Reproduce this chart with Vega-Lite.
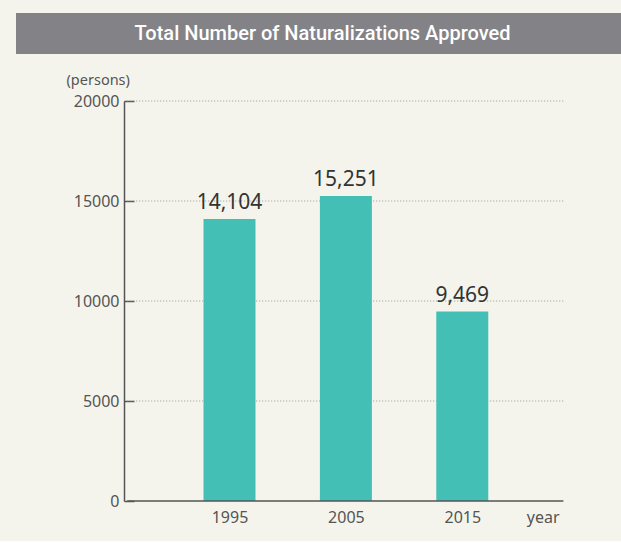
{
  "$schema": "https://vega.github.io/schema/vega-lite/v6.json",
  "background": "#f4f4ec",
  "padding": {"left": 16, "top": 13, "right": 0, "bottom": 16},
  "spacing": 18,
  "config": {"view": {"stroke": null}},
  "vconcat": [
    {
      "width": 605,
      "height": 41,
      "view": {"fill": "#838387", "stroke": null},
      "data": {"values": [{"title": "Total Number of Naturalizations Approved"}]},
      "mark": {"type": "text", "color": "#ffffff", "font": "Roboto", "fontSize": 20, "fontWeight": 500, "baseline": "middle", "align": "center", "dx": 4},
      "encoding": {"text": {"field": "title"}}
    },
    {
      "width": 605,
      "height": 400,
      "layer": [
        {
          "data": {"values": [{"count": 5000}, {"count": 10000}, {"count": 15000}, {"count": 20000}]},
          "mark": {"type": "rule", "color": "#9a9a9a", "strokeWidth": 1, "strokeDash": [1, 2]},
          "encoding": {
            "y": {"field": "count", "type": "quantitative"},
            "x": {"datum": 1986.212, "type": "quantitative"},
            "x2": {"datum": 2023.686}
          }
        },
        {
          "data": {"values": [
            {"year": 1995, "count": 14104},
            {"year": 2005, "count": 15251},
            {"year": 2015, "count": 9469}
          ]},
          "mark": {"type": "bar", "color": "#44bfb5", "width": 52},
          "encoding": {
            "x": {
              "field": "year", "type": "quantitative",
              "scale": {"domain": [1977.087, 2028.206], "nice": false, "zero": false},
              "axis": {
                "values": [1995, 2005, 2015], "format": "d",
                "title": "year", "titleX": 543, "titleY": 16, "titleAlign": "right", "titleBaseline": "middle",
                "titleFont": "Noto Sans", "titleFontSize": 16, "titleFontWeight": "normal", "titleColor": "#555555",
                "labelFont": "Noto Sans", "labelFontSize": 16, "labelColor": "#555555", "labelPadding": 8,
                "ticks": false, "domain": false, "grid": false
              }
            },
            "y": {
              "field": "count", "type": "quantitative",
              "scale": {"domain": [0, 20000], "nice": false},
              "axis": {
                "offset": -108,
                "title": "(persons)", "titleAngle": 0, "titleAlign": "left", "titleBaseline": "middle",
                "titleX": -58, "titleY": -21,
                "titleFont": "Noto Sans", "titleFontSize": 14.5, "titleFontWeight": "normal", "titleColor": "#555555",
                "values": [0, 5000, 10000, 15000, 20000], "format": "d",
                "labelFont": "Noto Sans", "labelFontSize": 16, "labelColor": "#555555", "labelPadding": 15,
                "tickSize": -10, "tickColor": "#555555", "tickWidth": 1.5,
                "domainColor": "#555555", "domainWidth": 1.5,
                "grid": false
              }
            }
          }
        },
        {
          "data": {"values": [{"count": 0}]},
          "mark": {"type": "rule", "color": "#555555", "strokeWidth": 1.5},
          "encoding": {
            "y": {"field": "count", "type": "quantitative"},
            "x": {"datum": 1986.212, "type": "quantitative"},
            "x2": {"datum": 2023.686}
          }
        },
        {
          "data": {"values": [
            {"year": 1995, "count": 14104},
            {"year": 2005, "count": 15251},
            {"year": 2015, "count": 9469}
          ]},
          "mark": {"type": "text", "dy": -10, "baseline": "alphabetic", "fontSize": 21, "font": "Noto Sans", "color": "#333333"},
          "encoding": {
            "x": {"field": "year", "type": "quantitative"},
            "y": {"field": "count", "type": "quantitative"},
            "text": {"field": "count", "type": "quantitative", "format": ","}
          }
        }
      ]
    }
  ]
}
